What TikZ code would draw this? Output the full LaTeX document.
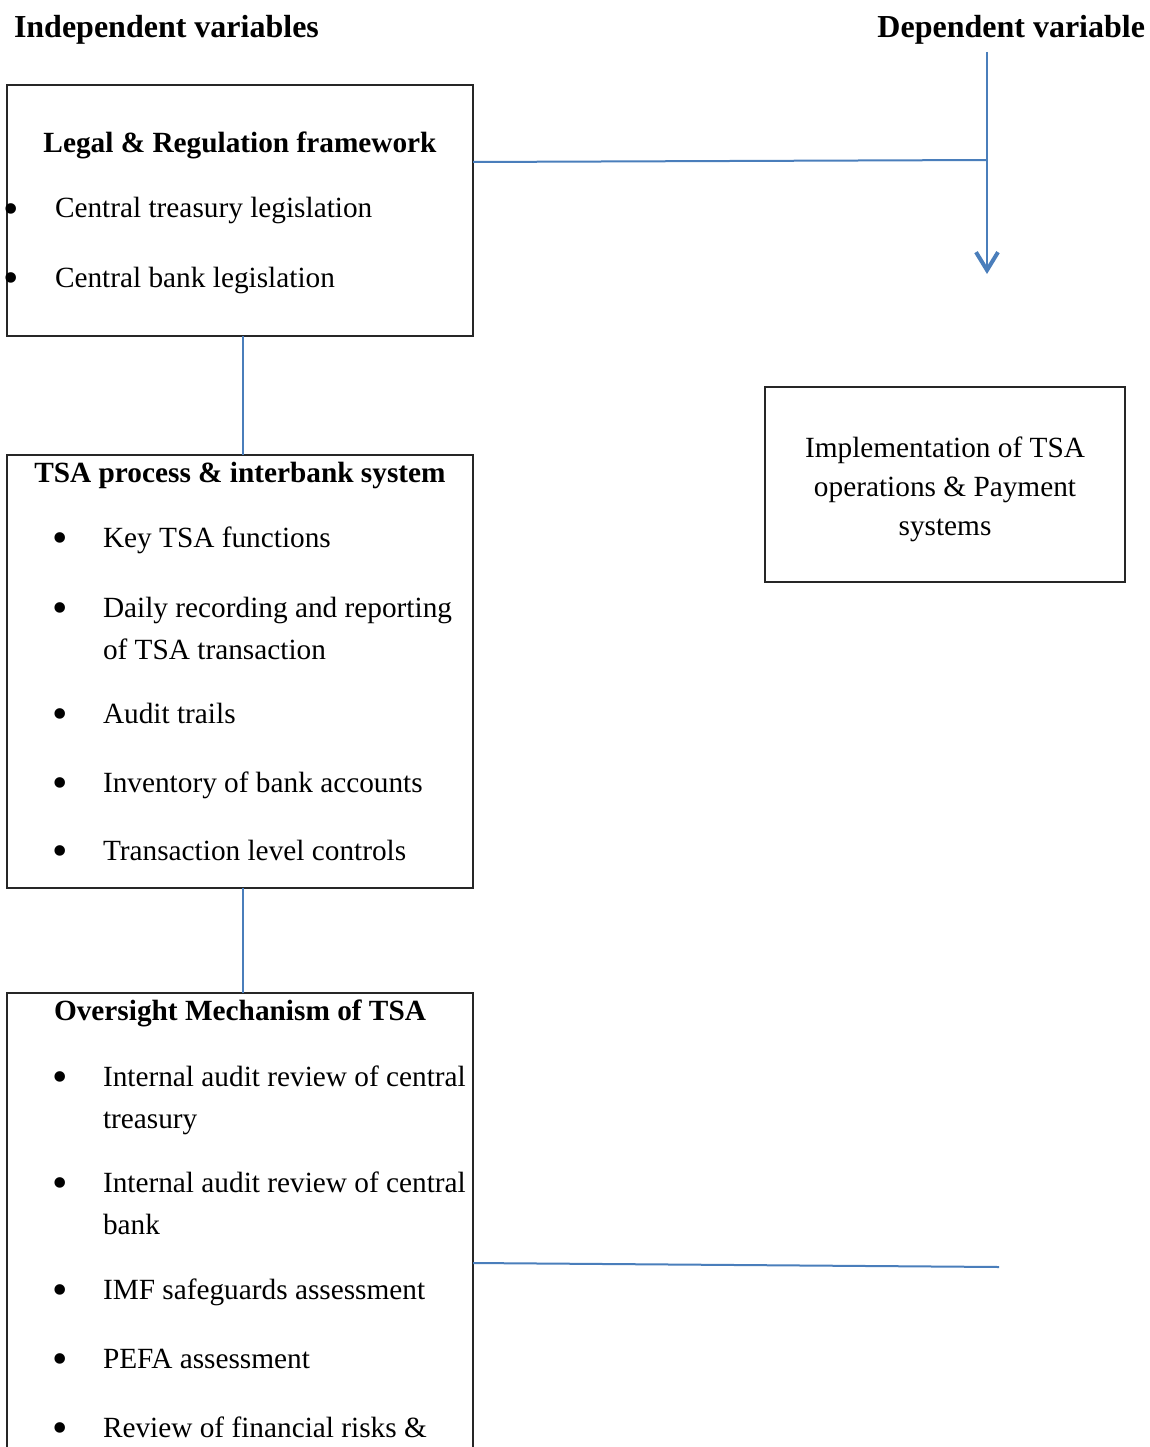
\documentclass[tikz,border=0pt]{standalone}
\usepackage{fontspec}
\setmainfont{Liberation Serif}
\usetikzlibrary{arrows.meta}
\definecolor{linkblue}{RGB}{74,126,187}
\begin{document}
\begin{tikzpicture}[x=1pt,y=-1pt,
  every node/.style={inner sep=0pt, outer sep=0pt},
  txt/.style={anchor=base west, font=\fontsize{29.3}{35}\selectfont},
  bul/.style={anchor=center, yshift=-6pt, font=\fontsize{44}{50}\selectfont},
  ttl/.style={anchor=base, font=\fontsize{29.3}{35}\selectfont\bfseries},
  hdg/.style={font=\fontsize{32}{38}\selectfont\bfseries},
  ctr/.style={anchor=base, font=\fontsize{29.3}{35}\selectfont},
  box/.style={draw=black!85, line width=1.1pt, rectangle},
  link/.style={draw=linkblue, line width=2pt}]
\clip (0,0) rectangle (1149,1447);
\useasboundingbox (0,0) rectangle (1149,1447);

% headings
\node[hdg, anchor=base west] (indep) at (14,38) {Independent variables};
\node[hdg, anchor=base east] (dep) at (1145,38) {Dependent variable};

% boxes
\node[box, minimum width=466, minimum height=251] (legal) at (240,210.5) {};
\node[box, minimum width=466, minimum height=433] (tsa) at (240,671.5) {};
\node[box, minimum width=466, minimum height=487] (over) at (240,1236.5) {};
\node[box, minimum width=360, minimum height=195] (impl) at (945,484.5) {};

% box 1 text
\node[ttl] (t1) at (240,153) {Legal \& Regulation framework};
\node[bul] (b11) at (11.5,207.5) {•};
\node[txt] (i11) at (55,218) {Central treasury legislation};
\node[bul] (b12) at (11.5,276.5) {•};
\node[txt] (i12) at (55,287) {Central bank legislation};

% box 2 text
\node[ttl] (t2) at (240,482) {TSA process \& interbank system};
\node[bul] (b21) at (60,536.5) {•};
\node[txt] (i21) at (103,547) {Key TSA functions};
\node[bul] (b22) at (60,606.5) {•};
\node[txt] (i22) at (103,617) {Daily recording and reporting};
\node[txt] (i22b) at (103,659) {of TSA transaction};
\node[bul] (b23) at (60,712.5) {•};
\node[txt] (i23) at (103,723) {Audit trails};
\node[bul] (b24) at (60,781.5) {•};
\node[txt] (i24) at (103,792) {Inventory of bank accounts};
\node[bul] (b25) at (60,849.5) {•};
\node[txt] (i25) at (103,860) {Transaction level controls};

% box 3 text
\node[ttl] (t3) at (240,1020) {Oversight Mechanism of TSA};
\node[bul] (b31) at (60,1075.5) {•};
\node[txt] (i31) at (103,1086) {Internal audit review of central};
\node[txt] (i31b) at (103,1128) {treasury};
\node[bul] (b32) at (60,1181.5) {•};
\node[txt] (i32) at (103,1192) {Internal audit review of central};
\node[txt] (i32b) at (103,1234) {bank};
\node[bul] (b33) at (60,1288.5) {•};
\node[txt] (i33) at (103,1299) {IMF safeguards assessment};
\node[bul] (b34) at (60,1357.5) {•};
\node[txt] (i34) at (103,1368) {PEFA assessment};
\node[bul] (b35) at (60,1426.5) {•};
\node[txt] (i35) at (103,1437) {Review of financial risks \&};

% box 4 text
\node[ctr] (d1) at (945,457) {Implementation of TSA};
\node[ctr] (d2) at (945,496) {operations \& Payment};
\node[ctr] (d3) at (945,535) {systems};

% connectors
\coordinate (hub) at (987,160);
\coordinate (dvtop) at (987,52);
\coordinate (dvtip) at (987,274);
\coordinate (endB) at (999,1267);
\draw[link] ([yshift=48.5pt]legal.east) -- (hub);
\draw[link, -{Straight Barb[length=18pt, width=22pt, line width=4pt]}] (dvtop) -- (dvtip);
\draw[link] ([xshift=3pt]legal.south) -- ([xshift=3pt]tsa.north);
\draw[link] ([xshift=3pt]tsa.south) -- ([xshift=3pt]over.north);
\draw[link] ([yshift=-26.5pt]over.east) -- (endB);
\end{tikzpicture}
\end{document}
